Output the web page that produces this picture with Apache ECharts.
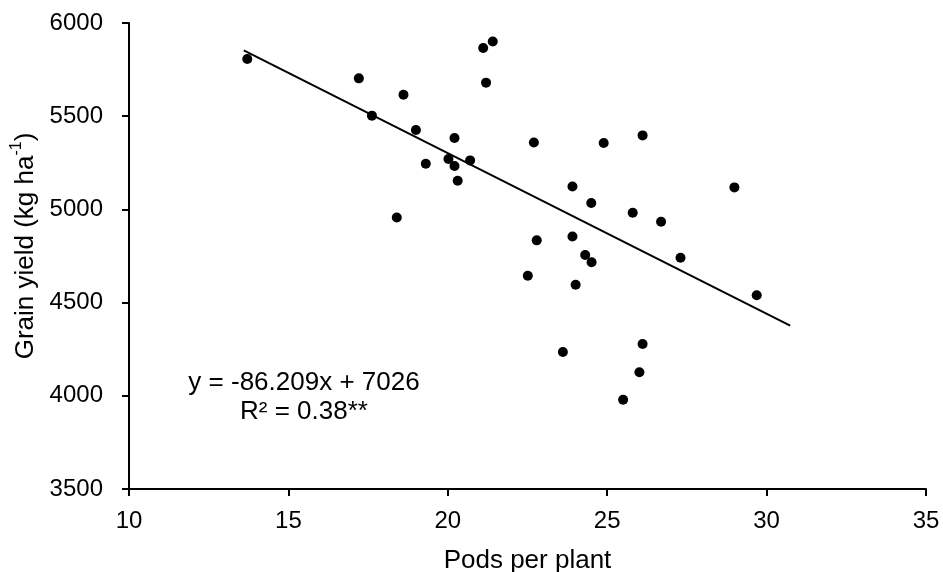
<!DOCTYPE html>
<html>
<head>
<meta charset="utf-8">
<style>
  html, body { margin: 0; padding: 0; background: #fff; }
  #chart { width: 943px; height: 572px; }
</style>
<script src="https://cdn.jsdelivr.net/npm/echarts@6/dist/echarts.min.js"></script>
</head>
<body>
<div id="chart"></div>
<script>
// Data
const podsPerPlant = [13.71, 17.21, 17.62, 18.61, 19.00, 19.31, 18.40, 20.02, 20.21, 20.21, 20.31, 20.70, 21.11, 21.41, 21.20, 22.70, 22.79, 22.51, 23.61, 23.91, 23.91, 24.01, 24.31, 24.50, 24.51, 24.89, 25.50, 25.80, 26.01, 26.11, 26.11, 26.69, 27.30, 28.99, 29.69];
const grainYield   = [5807, 5703, 5503, 5615, 5426, 5245, 4957, 5270, 5383, 5233, 5154, 5263, 5866, 5901, 5680, 5359, 4834, 4644, 4235, 5123, 4855, 4596, 4755, 5034, 4716, 5356, 3979, 4982, 4126, 5397, 4278, 4934, 4741, 5118, 4539];
const trendX = [13.6, 30.74];
const trendY = [5853, 4376];
const xTickMin = 10, xTickMax = 35, xTickStep = 5;
const yTickMin = 3500, yTickMax = 6000, yTickStep = 500;
const equationLines = ['y = -86.209x + 7026', 'R² = 0.38**'];
const xTitle = 'Pods per plant';

const FONT = "'Liberation Sans', Arial, sans-serif";
const chart = echarts.init(document.getElementById('chart'), null, { renderer: 'canvas' });

const scatterData = podsPerPlant.map((x, i) => [x, grainYield[i]]);
const trendData = trendX.map((x, i) => [x, trendY[i]]);

chart.setOption({
  animation: false,
  backgroundColor: '#ffffff',
  grid: { left: 129, right: 17, top: 23, bottom: 83, containLabel: false, outerBoundsMode: 'none' },
  xAxis: {
    type: 'value', min: xTickMin, max: xTickMax, interval: xTickStep,
    name: xTitle, nameLocation: 'middle', nameGap: 59,
    nameTextStyle: { fontFamily: FONT, fontSize: 26, color: '#000' },
    axisLine: { show: true, onZero: false, lineStyle: { color: '#000', width: 2 } },
    axisTick: { show: true, inside: false, length: 7, lineStyle: { color: '#000', width: 2 } },
    axisLabel: { fontFamily: FONT, fontSize: 24, color: '#000', margin: 20 },
    splitLine: { show: false }
  },
  yAxis: {
    type: 'value', min: yTickMin, max: yTickMax, interval: yTickStep,
    axisLine: { show: true, onZero: false, lineStyle: { color: '#000', width: 2 } },
    axisTick: { show: true, inside: false, length: 7, lineStyle: { color: '#000', width: 2 } },
    axisLabel: { fontFamily: FONT, fontSize: 24, color: '#000', margin: 26, formatter: v => String(v) },
    splitLine: { show: false }
  },
  series: [
    {
      type: 'scatter', data: scatterData, symbol: 'circle', symbolSize: 10,
      itemStyle: { color: '#000', opacity: 1 }, z: 3
    },
    {
      type: 'line', data: trendData, showSymbol: false, symbol: 'none',
      lineStyle: { color: '#000', width: 2 }, z: 2
    }
  ],
  graphic: [
    {
      type: 'text', x: 24, y: 246, rotation: Math.PI / 2,
      style: {
        text: '{a|Grain yield (kg ha}{s|-1}{a|)}',
        align: 'center', verticalAlign: 'middle',
        rich: {
          a: { fontFamily: FONT, fontSize: 26, fill: '#000', lineHeight: 30, verticalAlign: 'bottom' },
          s: { fontFamily: FONT, fontSize: 16, fill: '#000', lineHeight: 30, verticalAlign: 'top' }
        }
      }
    },
    {
      type: 'text', x: 304, y: 383,
      style: {
        text: equationLines[0], fontFamily: FONT, fontSize: 26, fill: '#000',
        align: 'center', verticalAlign: 'middle'
      }
    },
    {
      type: 'text', x: 304, y: 412,
      style: {
        text: equationLines[1], fontFamily: FONT, fontSize: 26, fill: '#000',
        align: 'center', verticalAlign: 'middle'
      }
    }
  ]
});
</script>
</body>
</html>
